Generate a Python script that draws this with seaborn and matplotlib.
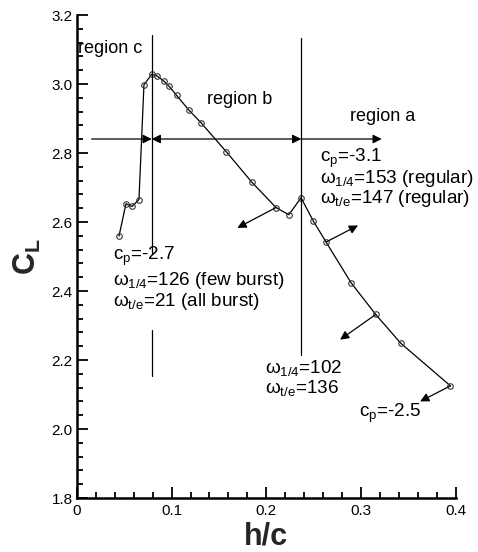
import matplotlib
matplotlib.use("Agg")
import matplotlib.pyplot as plt
import seaborn as sns
import pandas as pd
from matplotlib.ticker import MultipleLocator, FuncFormatter

# Lift coefficient versus ground height
hc = [0.0444, 0.0518, 0.0581, 0.0655, 0.0708, 0.0790, 0.0842, 0.0916, 0.0972,
      0.1053, 0.1184, 0.1310, 0.1580, 0.1846, 0.2103, 0.2238, 0.2368, 0.2499,
      0.2632, 0.2896, 0.3157, 0.3420, 0.3946]
cl = [2.559, 2.653, 2.645, 2.665, 2.998, 3.028, 3.024, 3.009, 2.994,
      2.967, 2.924, 2.888, 2.803, 2.716, 2.642, 2.621, 2.670, 2.602,
      2.542, 2.424, 2.332, 2.249, 2.125]

# Region boundaries and the horizontal divider
boundary_c = 0.079
boundary_a = 0.237
divider_y = 2.8406

region_labels = ["region c", "region b", "region a"]

sns.set_theme(style="white")
plt.rcParams["font.family"] = ["Liberation Sans", "DejaVu Sans"]
plt.rcParams["mathtext.fontset"] = "custom"
plt.rcParams["mathtext.rm"] = "Liberation Sans"
plt.rcParams["mathtext.it"] = "Liberation Sans:italic"
plt.rcParams["mathtext.bf"] = "Liberation Sans:bold"

fig = plt.figure(figsize=(4.78, 5.52), dpi=100)
ax = fig.add_axes([0.161, 0.0978, 0.792, 0.875])

df = pd.DataFrame({"hc": hc, "cl": cl})
sns.lineplot(data=df, x="hc", y="cl", sort=False, ax=ax, color="black",
             linewidth=0.9, marker="o", markersize=4,
             markerfacecolor="none", markeredgecolor="#333333",
             markeredgewidth=0.8)

ax.set_xlim(0, 0.4)
ax.set_ylim(1.8, 3.2)
ax.xaxis.set_major_locator(MultipleLocator(0.1))
ax.xaxis.set_minor_locator(MultipleLocator(0.02))
ax.yaxis.set_major_locator(MultipleLocator(0.2))
ax.yaxis.set_minor_locator(MultipleLocator(0.04))
ax.xaxis.set_major_formatter(FuncFormatter(lambda v, p: "0" if abs(v) < 1e-9 else f"{v:.1f}"))
ax.yaxis.set_major_formatter(FuncFormatter(lambda v, p: f"{v:.1f}"))
ax.tick_params(which="both", direction="in", width=1.3, colors="black",
               labelsize=11, bottom=True, left=True)
ax.tick_params(which="major", length=8)
ax.tick_params(axis="x", which="major", pad=4)
ax.tick_params(axis="y", which="major", pad=3)
ax.tick_params(which="minor", length=4.5)

for side in ["top", "right"]:
    ax.spines[side].set_visible(False)
for side in ["left", "bottom"]:
    ax.spines[side].set_linewidth(1.8)
    ax.spines[side].set_color("black")

ax.set_xlabel("h/c", fontsize=22, fontweight="bold", labelpad=2.5)
ax.set_ylabel(r"$\mathbf{C}_{\mathbf{L}}$", fontsize=22, labelpad=6)

line_kw = dict(color="black", linewidth=0.9)

# Vertical region boundaries
ax.plot([boundary_c, boundary_c], [2.509, 3.141], **line_kw)
ax.plot([boundary_c, boundary_c], [2.154, 2.286], **line_kw)
ax.plot([boundary_a, boundary_a], [2.214, 3.133], **line_kw)

arrow_kw = dict(color="black", lw=0.9, shrinkA=0, shrinkB=0, mutation_scale=13)

# Horizontal divider with arrows
ax.annotate("", xy=(boundary_c, divider_y), xytext=(0.0155, divider_y),
            arrowprops=dict(arrowstyle="-|>", **arrow_kw))
ax.annotate("", xy=(boundary_a, divider_y), xytext=(boundary_c, divider_y),
            arrowprops=dict(arrowstyle="<|-|>", **arrow_kw))
ax.annotate("", xy=(0.322, divider_y), xytext=(boundary_a, divider_y),
            arrowprops=dict(arrowstyle="-|>", **arrow_kw))

# Small arrows from selected points
ax.annotate("", xy=(0.1695, 2.583), xytext=(hc[14], cl[14]),
            arrowprops=dict(arrowstyle="-|>", **arrow_kw))
ax.annotate("", xy=(0.297, 2.590), xytext=(hc[18], cl[18]),
            arrowprops=dict(arrowstyle="-|>", **arrow_kw))
ax.annotate("", xy=(0.278, 2.259), xytext=(hc[20], cl[20]),
            arrowprops=dict(arrowstyle="-|>", **arrow_kw))
ax.annotate("", xy=(0.3626, 2.080), xytext=(hc[22], cl[22]),
            arrowprops=dict(arrowstyle="-|>", **arrow_kw))

txt = dict(fontsize=13, va="center", ha="left", color="black")
ax.text(0.0014, 3.103, region_labels[0], **txt)
ax.text(0.137, 2.955, region_labels[1], **txt)
ax.text(0.289, 2.906, region_labels[2], **txt)

ann = dict(fontsize=13.6, va="center", ha="left", color="black")
ax.text(0.257, 2.784, r"c$_{\rm p}$=-3.1", **ann)
ax.text(0.257, 2.725, r"ω$_{\rm 1/4}$=153 (regular)", **ann)
ax.text(0.257, 2.668, r"ω$_{\rm t/e}$=147 (regular)", **ann)

ax.text(0.0384, 2.500, r"c$_{\rm p}$=-2.7", **ann)
ax.text(0.0384, 2.431, r"ω$_{\rm 1/4}$=126 (few burst)", **ann)
ax.text(0.0384, 2.371, r"ω$_{\rm t/e}$=21 (all burst)", **ann)

ax.text(0.1987, 2.178, r"ω$_{\rm 1/4}$=102", **ann)
ax.text(0.1987, 2.118, r"ω$_{\rm t/e}$=136", **ann)

ax.text(0.298, 2.046, r"c$_{\rm p}$=-2.5", **ann)

fig.savefig("out.png", dpi=100)
